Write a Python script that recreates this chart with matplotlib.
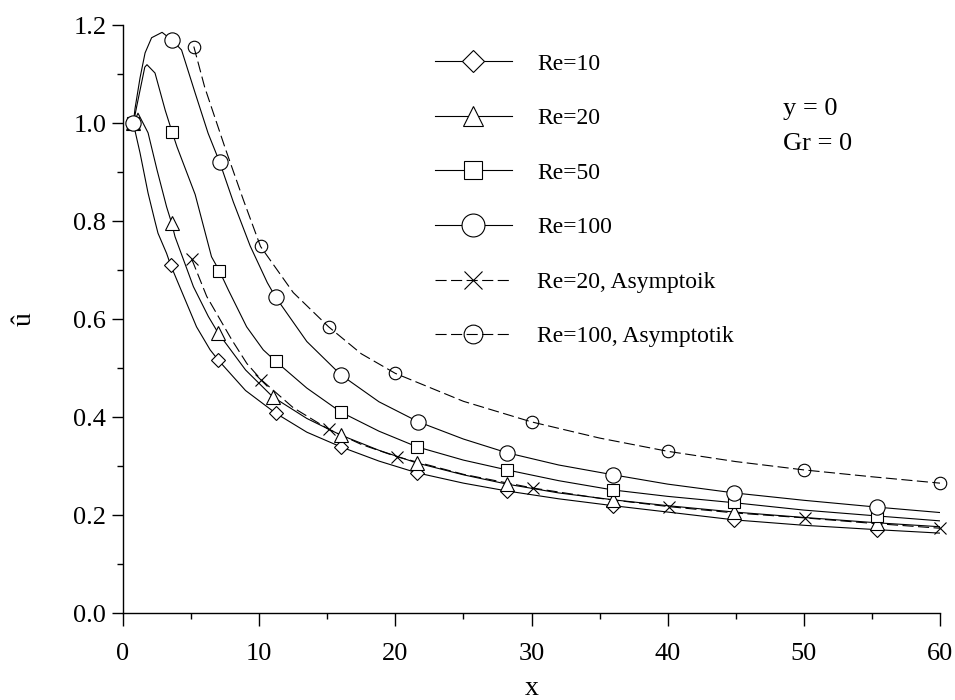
import matplotlib
matplotlib.use("Agg")
import matplotlib.pyplot as plt
from matplotlib.lines import Line2D
from matplotlib.ticker import MultipleLocator, FormatStrFormatter

plt.rcParams['font.family'] = ['Liberation Serif', 'DejaVu Serif']

# ---- data ----
# Re = 10 (diamonds)
re10_x = [0.76, 1.25, 1.84, 2.35, 2.57, 3.2, 3.5, 3.95, 5.4, 6.4, 7.0, 9.0, 11.2, 13.5, 16.0,
          18.8, 21.6, 25.0, 28.2, 32.0, 36.0, 40.0, 44.9, 50.0, 55.4, 60.0]
re10_y = [1.00, 0.94, 0.858, 0.80, 0.776, 0.735, 0.711, 0.681, 0.585, 0.538, 0.517, 0.455, 0.409, 0.370, 0.340,
          0.311, 0.287, 0.266, 0.250, 0.234, 0.220, 0.207, 0.191, 0.180, 0.171, 0.164]
re10_mx = [0.76, 3.5, 7.0, 11.2, 16.0, 21.6, 28.2, 36.0, 44.9, 55.4]
re10_my = [1.00, 0.711, 0.517, 0.409, 0.340, 0.287, 0.250, 0.220, 0.191, 0.171]

# Re = 20 (triangles)
re20_x = [0.76, 1.1, 1.84, 2.5, 3.2, 3.58, 3.82, 5.17, 6.27, 7.0, 9.0, 11.0, 13.5, 16.0,
          18.8, 21.6, 25.0, 28.2, 32.0, 36.0, 40.0, 44.9, 50.0, 55.4, 60.0]
re20_y = [1.00, 1.021, 0.981, 0.905, 0.83, 0.796, 0.769, 0.667, 0.606, 0.572, 0.497, 0.442, 0.398, 0.364,
          0.333, 0.307, 0.283, 0.264, 0.246, 0.232, 0.220, 0.207, 0.196, 0.185, 0.177]
re20_mx = [0.76, 3.58, 7.0, 11.0, 16.0, 21.6, 28.2, 36.0, 44.9, 55.4]
re20_my = [1.00, 0.796, 0.572, 0.442, 0.364, 0.307, 0.264, 0.232, 0.207, 0.185]

# Re = 50 (squares)
re50_x = [0.76, 1.0, 1.6, 1.76, 2.35, 3.1, 3.6, 3.97, 5.3, 6.5, 7.08, 7.74, 9.08, 10.3, 11.2, 13.5, 16.0,
          18.8, 21.6, 25.0, 28.2, 32.0, 36.0, 40.0, 44.9, 50.0, 55.4, 60.0]
re50_y = [1.00, 1.034, 1.115, 1.12, 1.103, 1.027, 0.983, 0.952, 0.855, 0.728, 0.699, 0.66, 0.585, 0.538, 0.515, 0.46, 0.411,
          0.372, 0.340, 0.313, 0.293, 0.271, 0.252, 0.239, 0.226, 0.211, 0.199, 0.189]
re50_mx = [0.76, 3.6, 7.08, 11.2, 16.0, 21.6, 28.2, 36.0, 44.9, 55.4]
re50_my = [1.00, 0.983, 0.699, 0.515, 0.411, 0.340, 0.293, 0.252, 0.228, 0.199]

# Re = 100 (circles)
re100_x = [0.76, 0.88, 1.25, 1.62, 2.1, 2.87, 3.6, 4.3, 5.3, 6.25, 7.1, 8.1, 9.34, 10.6, 11.2, 13.5, 16.0,
           18.8, 21.7, 25.0, 28.2, 32.0, 36.0, 40.0, 44.9, 50.0, 55.4, 60.0]
re100_y = [1.00, 1.03, 1.093, 1.144, 1.175, 1.186, 1.17, 1.15, 1.062, 0.98, 0.921, 0.84, 0.75, 0.675, 0.646, 0.555, 0.487,
           0.432, 0.391, 0.356, 0.328, 0.303, 0.283, 0.264, 0.246, 0.231, 0.217, 0.206]
re100_mx = [0.76, 3.6, 7.1, 11.2, 16.0, 21.7, 28.2, 36.0, 44.9, 55.4]
re100_my = [1.00, 1.17, 0.921, 0.646, 0.487, 0.391, 0.328, 0.283, 0.246, 0.217]

# Re = 20, asymptotic (x markers, dashed)
a20_x = [5.05, 6.15, 8.0, 9.1, 10.15, 12.5, 15.1, 17.5, 20.1, 25.0, 30.1, 35.0, 40.1, 45.0, 50.1, 55.0, 60.0]
a20_y = [0.723, 0.647, 0.558, 0.51, 0.477, 0.42, 0.376, 0.345, 0.320, 0.284, 0.256, 0.235, 0.218, 0.205, 0.195, 0.184, 0.174]
a20_mx = [5.05, 10.15, 15.1, 20.1, 30.1, 40.1, 50.1, 60.0]
a20_my = [0.723, 0.477, 0.376, 0.320, 0.256, 0.218, 0.195, 0.174]

# Re = 100, asymptotic (circles, dashed)
a100_x = [5.2, 6.0, 7.5, 8.84, 10.1, 12.5, 15.1, 17.5, 20.0, 25.0, 30.0, 35.0, 40.0, 45.0, 50.0, 55.0, 60.0]
a100_y = [1.157, 1.074, 0.95, 0.844, 0.749, 0.655, 0.585, 0.53, 0.49, 0.433, 0.391, 0.358, 0.331, 0.31, 0.293, 0.279, 0.266]
a100_mx = [5.2, 10.1, 15.1, 20.0, 30.0, 40.0, 50.0, 60.0]
a100_my = [1.157, 0.749, 0.585, 0.49, 0.391, 0.331, 0.293, 0.266]

labels = ["Re=10", "Re=20", "Re=50", "Re=100", "Re=20, Asymptoik", "Re=100, Asymptotik"]

# ---- figure ----
fig = plt.figure(figsize=(9.55, 7.0), dpi=100)
ax = fig.add_axes([0.1288, 0.1236, 0.8555, 0.84])

lw = 0.8
mew = 0.8
dash = (0, (10, 4))
series = [
    (re10_x, re10_y, re10_mx, re10_my, 'D', 7.6, '-', 'white'),
    (re20_x, re20_y, re20_mx, re20_my, '^', 9.4, '-', 'white'),
    (re50_x, re50_y, re50_mx, re50_my, 's', 8.2, '-', 'white'),
    (re100_x, re100_y, re100_mx, re100_my, 'o', 11.0, '-', 'white'),
    (a20_x, a20_y, a20_mx, a20_my, 'x', 8.5, dash, 'none'),
    (a100_x, a100_y, a100_mx, a100_my, 'o', 9.0, dash, 'none'),
]

handles = []
for (x, y, mx, my, mk, ms, ls, fc), lab in zip(series, labels):
    ax.plot(x, y, color='black', lw=lw, ls=ls, zorder=2)
    ax.plot(mx, my, ls='none', marker=mk, ms=ms, mfc=fc, mec='black', mew=mew, zorder=3,
            clip_on=False)
    handles.append(Line2D([], [], color='black', lw=lw, ls=ls, marker=mk, ms=ms,
                          mfc=fc, mec='black', mew=mew))

ax.set_xlim(0, 60)
ax.set_ylim(0, 1.2)
ax.spines['top'].set_visible(False)
ax.spines['right'].set_visible(False)
ax.spines['left'].set_linewidth(1.0)
ax.spines['bottom'].set_linewidth(1.0)

ax.xaxis.set_major_locator(MultipleLocator(10))
ax.xaxis.set_minor_locator(MultipleLocator(5))
ax.yaxis.set_major_locator(MultipleLocator(0.2))
ax.yaxis.set_minor_locator(MultipleLocator(0.1))
ax.yaxis.set_major_formatter(FormatStrFormatter('%.1f'))
ax.tick_params(which='major', direction='out', length=8, width=1.0, labelsize=19, pad=4)
ax.tick_params(axis='x', which='major', length=9, pad=12)
ax.tick_params(which='minor', direction='out', length=4, width=1.0)

ax.set_xlabel('x', fontsize=20, labelpad=8)
ax.set_ylabel('û', fontsize=20, labelpad=26)

ax.text(48.5, 1.017, 'y = 0', fontsize=19, ha='left', va='baseline')
ax.text(48.5, 0.946, 'Gr = 0', fontsize=19, ha='left', va='baseline')

leg = fig.legend(handles, labels, loc='upper left', bbox_to_anchor=(435 / 955, 1 - 53 / 700),
                 frameon=False, fontsize=17, handlelength=3.26, handletextpad=1.06,
                 labelspacing=1.40, markerscale=1.5, borderpad=0, borderaxespad=0)

fig.savefig('out.png', dpi=100)
